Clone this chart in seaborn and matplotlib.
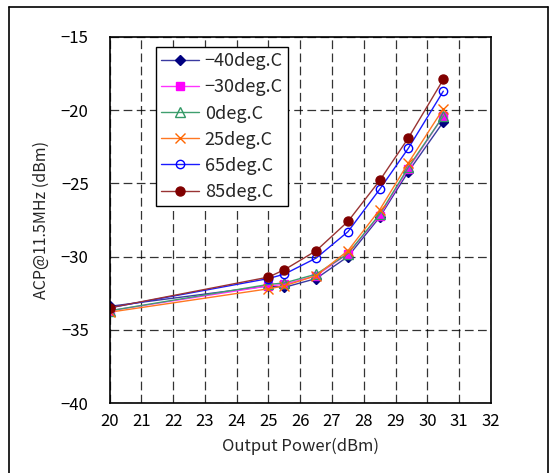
import matplotlib
matplotlib.use("Agg")
import matplotlib.pyplot as plt
import seaborn as sns
import pandas as pd
from matplotlib.lines import Line2D

sns.set_style("white")
plt.rcParams['font.family'] = ['Noto Sans CJK JP', 'DejaVu Sans']

power = [20, 25, 25.5, 26.5, 27.5, 28.5, 29.4, 30.5]
series_names = ["-40deg.C", "-30deg.C", "0deg.C", "25deg.C", "65deg.C", "85deg.C"]
acp_m40 = [-33.4, -32.0, -32.1, -31.5, -30.0, -27.3, -24.2, -20.8]
acp_m30 = [-33.7, -32.0, -31.9, -31.3, -29.8, -27.2, -24.0, -20.4]
acp_0 = [-33.7, -31.9, -31.8, -31.2, -29.8, -27.1, -23.9, -20.4]
acp_25 = [-33.8, -32.2, -32.0, -31.3, -29.6, -26.8, -23.6, -19.9]
acp_65 = [-33.5, -31.5, -31.2, -30.1, -28.3, -25.4, -22.6, -18.7]
acp_85 = [-33.5, -31.4, -30.9, -29.6, -27.6, -24.8, -21.9, -17.9]
all_vals = [acp_m40, acp_m30, acp_0, acp_25, acp_65, acp_85]

x_ticks = list(range(20, 33))
y_ticks = [-40, -35, -30, -25, -20, -15]

rows = []
for name, vals in zip(series_names, all_vals):
    for p, v in zip(power, vals):
        rows.append({"power": p, "acp": v, "temp": name})
df = pd.DataFrame(rows)

line_colors = {"-40deg.C": "#3a3aa0", "-30deg.C": "#ff33ff", "0deg.C": "#3f9f6f",
               "25deg.C": "#ff7722", "65deg.C": "#1a1aff", "85deg.C": "#993333"}
marker_face = {"-40deg.C": "#000080", "-30deg.C": "#ff00ff", "0deg.C": "none",
               "25deg.C": "#ff6600", "65deg.C": "none", "85deg.C": "#800000"}
marker_edge = {"-40deg.C": "#000080", "-30deg.C": "#ff00ff", "0deg.C": "#339966",
               "25deg.C": "#ff6600", "65deg.C": "#0000ff", "85deg.C": "#800000"}
markers = {"-40deg.C": "D", "-30deg.C": "s", "0deg.C": "^",
           "25deg.C": "x", "65deg.C": "o", "85deg.C": "o"}
msize = {"-40deg.C": 5, "-30deg.C": 6, "0deg.C": 6.5, "25deg.C": 7, "65deg.C": 6, "85deg.C": 6.5}

fig = plt.figure(figsize=(5.58, 4.73), dpi=100)
ax = fig.add_axes([109.5/558, 1-403/473, (491-109.5)/558, (403-37)/473])

handles = []
for name in series_names:
    sub = df[df["temp"] == name]
    sns.lineplot(data=sub, x="power", y="acp", ax=ax, color=line_colors[name],
                 lw=1.0, marker=markers[name], markersize=msize[name],
                 markerfacecolor=marker_face[name], markeredgecolor=marker_edge[name],
                 markeredgewidth=1.0, sort=False, estimator=None, legend=False)
    handles.append(Line2D([], [], color=line_colors[name], lw=1.0, marker=markers[name],
                          markersize=msize[name], markerfacecolor=marker_face[name],
                          markeredgecolor=marker_edge[name], markeredgewidth=1.0))

ax.set_xlim(20, 32)
ax.set_ylim(-40, -15)
ax.set_xticks(x_ticks)
ax.set_yticks(y_ticks)
ax.set_xticklabels([str(t) for t in x_ticks])
ax.set_yticklabels([str(t).replace("-", "\u2212") for t in y_ticks])
ax.tick_params(axis="both", length=0, labelsize=12, colors="black")
ax.tick_params(axis="y", pad=15)
ax.tick_params(axis="x", pad=7)
ax.grid(True, color="black", linestyle=(0, (7, 3.5)), lw=0.9, alpha=0.8)
for s in ax.spines.values():
    s.set_color("black")
    s.set_linewidth(1.2)
ax.set_xlabel("Output Power(dBm)", fontsize=12, labelpad=6)
ax.set_ylabel("ACP@11.5MHz (dBm)", fontsize=11.5, labelpad=8)

labels = [n.replace("-", "\u2212") for n in series_names]
leg = ax.legend(handles, labels, loc="upper left", bbox_to_anchor=(0.122, 0.973),
                borderaxespad=0, fancybox=False, framealpha=1, edgecolor="black",
                fontsize=13, handlelength=2.1, labelspacing=0.45, borderpad=0.3,
                handletextpad=0.3)
leg.get_frame().set_linewidth(1.0)

# outer frame
fig.add_artist(Line2D([9/558, 9/558], [0, 1-7/473], color="black", lw=1.2, transform=fig.transFigure))
fig.add_artist(Line2D([9/558, 548/558], [1-7/473, 1-7/473], color="black", lw=1.2, transform=fig.transFigure))
fig.add_artist(Line2D([548/558, 548/558], [0, 1-7/473], color="black", lw=1.2, transform=fig.transFigure))

fig.savefig("out.png", dpi=100)
